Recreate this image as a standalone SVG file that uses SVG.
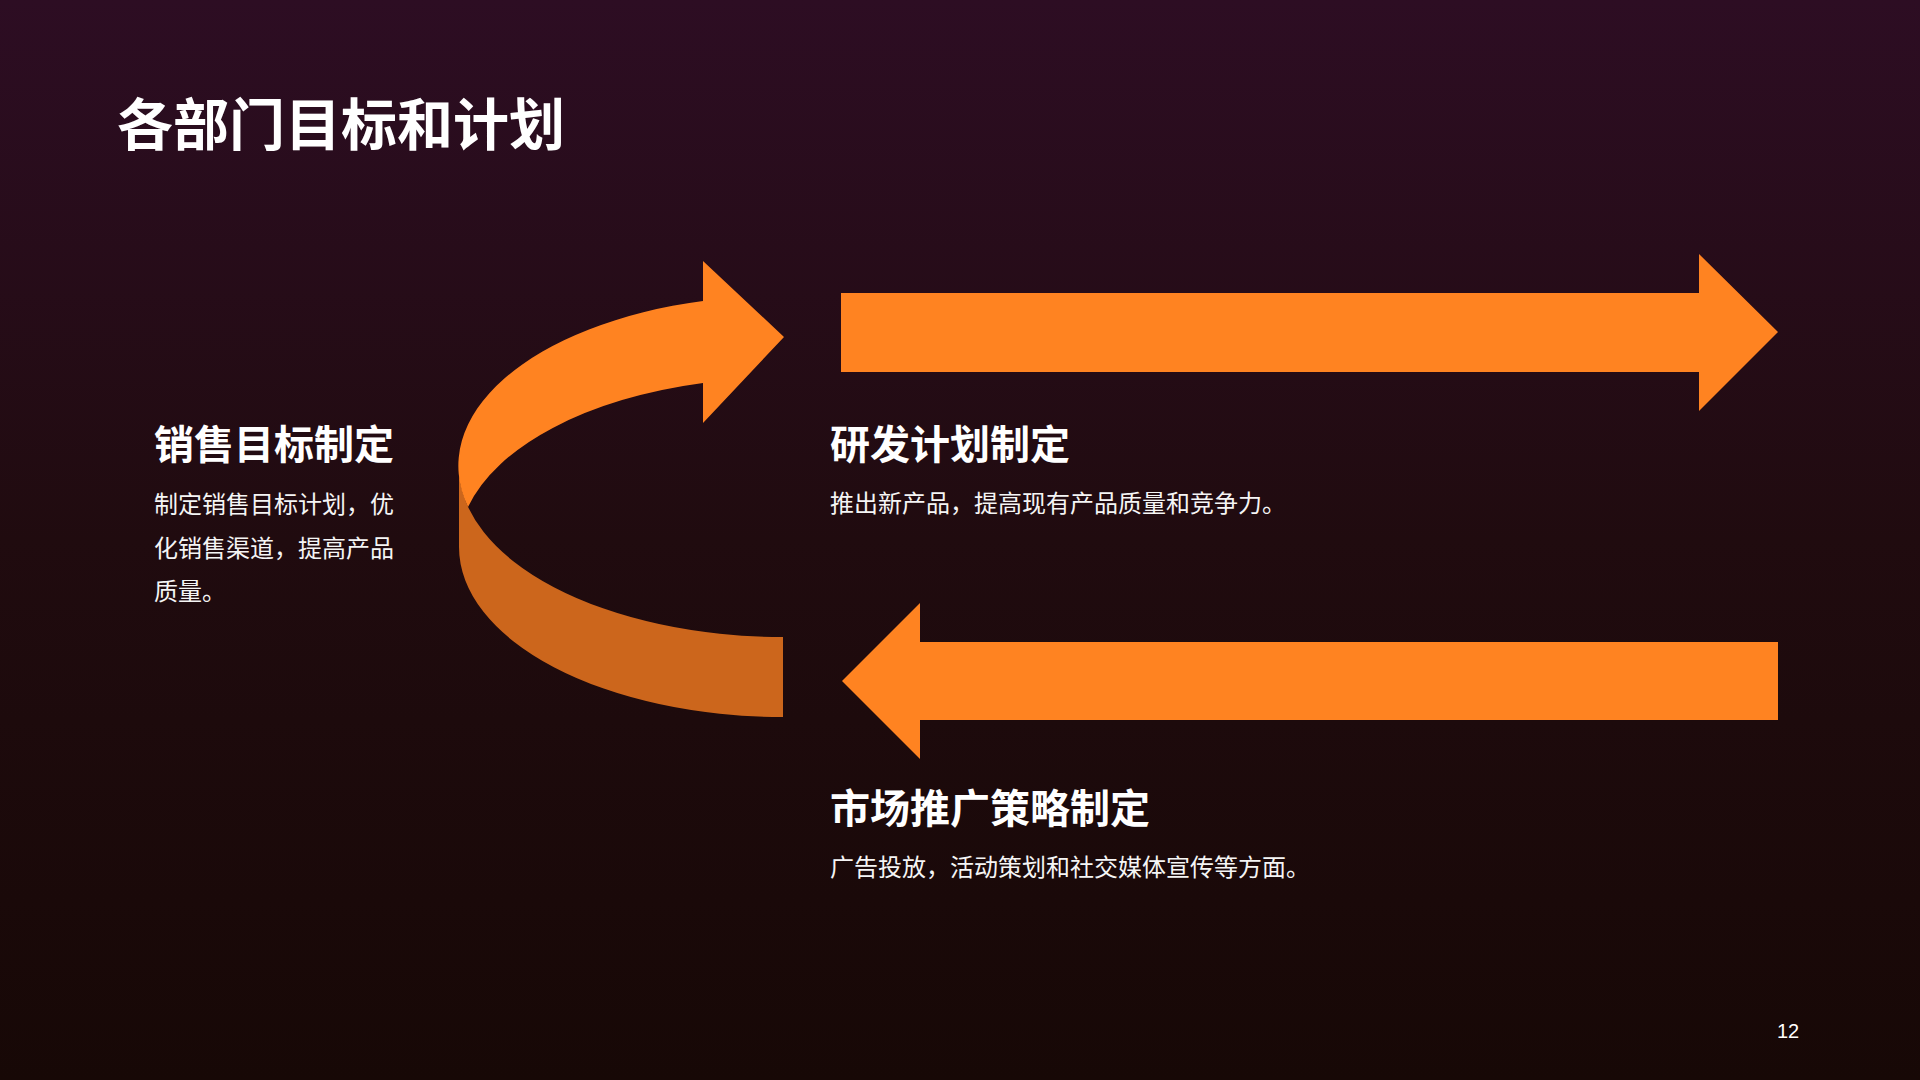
<svg xmlns="http://www.w3.org/2000/svg" width="1920" height="1080" viewBox="0 0 1920 1080">
  <defs>
    <linearGradient id="bg" x1="0" y1="0" x2="0" y2="1">
      <stop offset="0" stop-color="#2D0D23"/>
      <stop offset="0.5" stop-color="#200B0F"/>
      <stop offset="1" stop-color="#170806"/>
    </linearGradient>
  </defs>
  <style>
    .title { font-family: "Noto Sans CJK SC", "Noto Sans", sans-serif; font-weight: 700; font-size: 56px; fill: #FFFFFF; }
    .head { font-family: "Noto Sans CJK SC", "Noto Sans", sans-serif; font-weight: 700; font-size: 40px; fill: #FFFFFF; }
    .body { font-family: "Noto Sans CJK SC", "Noto Sans", sans-serif; font-weight: 400; font-size: 24px; fill: #F5F5F5; }
    .num { font-family: "Liberation Sans", Arial, sans-serif; font-size: 20px; fill: #FFFFFF; }
    .arrow { fill: #FF8321; }
    .side { fill: #CC661C; }
  </style>
  <rect x="0" y="0" width="1920" height="1080" fill="url(#bg)"/>
  <text class="title" x="117" y="145">各部门目标和计划</text>

  <g id="connectors">
    <g id="curved-arrow">
      <path class="side" d="M 459 467 A 324 170 0 0 0 783 637 L 783 717 A 324 170 0 0 1 459 547 Z"/>
      <path class="arrow" d="M 703 301 A 324 170 0 0 0 468 507 A 324 170 0 0 1 703 383 L 703 423 L 784 337 L 703 261 Z"/>
    </g>
    <g id="arrow-right">
      <path class="arrow" d="M 841 293 L 1699 293 L 1699 254 L 1778 332 L 1699 411 L 1699 372 L 841 372 Z"/>
    </g>
    <g id="arrow-left">
      <path class="arrow" d="M 1778 642 L 920 642 L 920 603 L 842 681 L 920 759 L 920 720 L 1778 720 Z"/>
    </g>
  </g>

  <g id="node-sales">
    <text class="head" x="154" y="459">销售目标制定</text>
    <text class="body" x="154" y="513">制定销售目标计划，优</text>
    <text class="body" x="154" y="557">化销售渠道，提高产品</text>
    <text class="body" x="154" y="600">质量。</text>
  </g>
  <g id="node-rd">
    <text class="head" x="830" y="459">研发计划制定</text>
    <text class="body" x="830" y="512">推出新产品，提高现有产品质量和竞争力。</text>
  </g>
  <g id="node-marketing">
    <text class="head" x="830" y="823">市场推广策略制定</text>
    <text class="body" x="830" y="876">广告投放，活动策划和社交媒体宣传等方面。</text>
  </g>
  <text class="num" x="1777" y="1038">12</text>
</svg>
